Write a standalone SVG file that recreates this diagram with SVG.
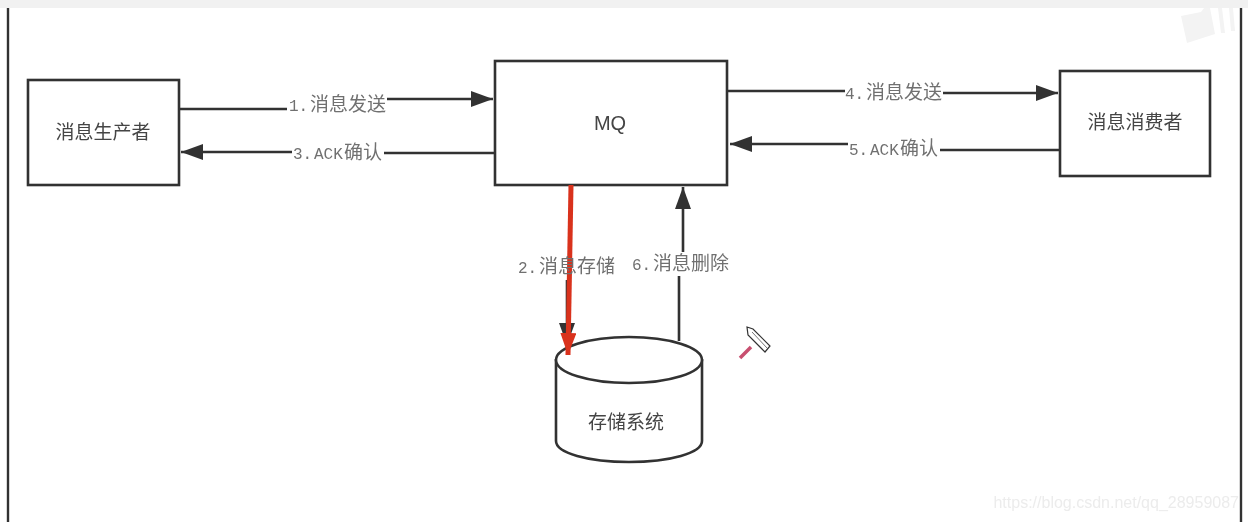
<svg xmlns="http://www.w3.org/2000/svg" width="1248" height="522" viewBox="0 0 1248 522">
<style>
.box{fill:#fff;stroke:#333;stroke-width:2.6}
.ln{fill:none;stroke:#333;stroke-width:2.6}
.t{font-family:"Noto Sans CJK SC","Liberation Sans",sans-serif;font-size:19px;fill:#444;text-anchor:middle}
.l{font-family:"Noto Sans CJK SC","Liberation Sans",sans-serif;font-size:19px;fill:#707070}
.n{font-family:"Liberation Mono",monospace;font-size:16px}
</style>
<defs>
<filter id="soft" x="-5%" y="-5%" width="110%" height="110%"><feGaussianBlur stdDeviation="0.45"/></filter>
<marker id="a" markerUnits="userSpaceOnUse" markerWidth="24" markerHeight="18" refX="22" refY="8" orient="auto"><path d="M0 0L22 8L0 16Z" fill="#333"/></marker>
<marker id="r" markerUnits="userSpaceOnUse" markerWidth="24" markerHeight="18" refX="22" refY="8" orient="auto"><path d="M0 0L22 8L0 16Z" fill="#d9301c"/></marker>
</defs>
<rect width="1248" height="522" fill="#fff"/>
<g filter="url(#soft)">
<rect width="1248" height="8" fill="#f1f1f1"/>
<g fill="#f3f3f3"><path d="M1181 16l20 -4 3 -4h6l5 26-28 9Z"/><path d="M1218 8h4l3 25h-4ZM1229 8h4l2 23h-4Z"/></g>
<path d="M8 8V522M1241 8V522" stroke="#333" stroke-width="2.4" fill="none"/>
<g id="producer"><rect class="box" x="28" y="80" width="151" height="105"/><text class="t" x="103" y="139">消息生产者</text></g>
<g id="mq"><rect class="box" x="495" y="61" width="232" height="124"/><text x="610" y="130" font-family="Liberation Sans,sans-serif" font-size="20" fill="#444" text-anchor="middle">MQ</text></g>
<g id="consumer"><rect class="box" x="1060" y="71" width="150" height="105"/><text class="t" x="1135" y="129">消息消费者</text></g>
<g id="storage">
<path class="box" d="M556 359V441C556 453 588 462 629 462C670 462 702 453 702 441V359"/>
<ellipse class="box" cx="629" cy="360" rx="73" ry="23"/>
<text class="t" x="626" y="429">存储系统</text>
</g>
<g id="connectors">
<path class="ln" d="M180 109H287"/>
<path class="ln" d="M387 99H493" marker-end="url(#a)"/>
<path class="ln" d="M494 153H384"/>
<path class="ln" d="M292 152H181" marker-end="url(#a)"/>
<path class="ln" d="M728 91H845"/>
<path class="ln" d="M943 93H1058" marker-end="url(#a)"/>
<path class="ln" d="M1060 150H940"/>
<path class="ln" d="M848 144H730" marker-end="url(#a)"/>
<path class="ln" d="M567 280V345" marker-end="url(#a)"/>
<path class="ln" d="M679 341V276"/>
<path class="ln" d="M683 252V187" marker-end="url(#a)"/>
<path d="M571 185L568 355" fill="none" stroke="#d9301c" stroke-width="5" marker-end="url(#r)"/>
</g>
<g id="labels">
<text class="l" x="289" y="111"><tspan class="n">1.</tspan><tspan x="310">消息发送</tspan></text>
<text class="l" x="293" y="159"><tspan class="n">3.</tspan><tspan class="n" x="314">ACK</tspan><tspan x="344">确认</tspan></text>
<text class="l" x="845" y="99"><tspan class="n">4.</tspan><tspan x="866">消息发送</tspan></text>
<text class="l" x="849" y="155"><tspan class="n">5.</tspan><tspan class="n" x="870">ACK</tspan><tspan x="900">确认</tspan></text>
<text class="l" x="518" y="273"><tspan class="n">2.</tspan><tspan x="539">消息存储</tspan></text>
<text class="l" x="632" y="270"><tspan class="n">6.</tspan><tspan x="653">消息删除</tspan></text>
</g>
<g id="pencil">
<path d="M747 327L753 329L770 346L765 352L748 335Z" fill="#fff" stroke="#333" stroke-width="1.2"/>
<path d="M752 332L767 348" stroke="#777" stroke-width="1"/>
<path d="M740 358L751 347" stroke="#c85070" stroke-width="3.5"/>
</g>
<text x="1239" y="508" font-family="Liberation Sans,sans-serif" font-size="16" fill="#ececec" text-anchor="end">https://blog.csdn.net/qq_28959087</text>
</g>
</svg>
